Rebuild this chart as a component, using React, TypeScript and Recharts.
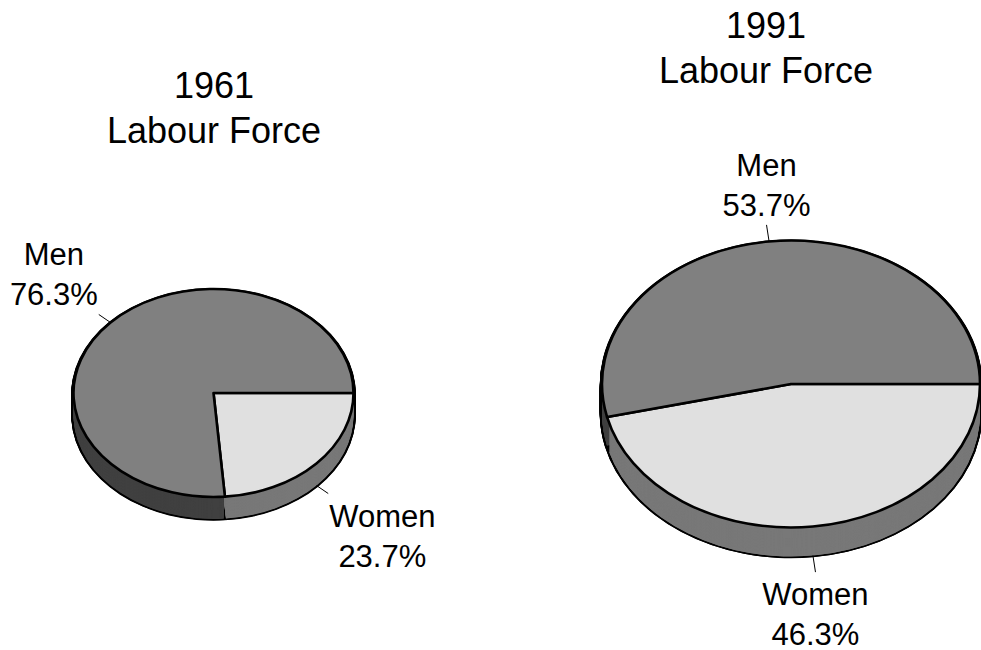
import React from 'react';
import { PieChart, Pie, Cell } from 'recharts';

// shares of the labour force, in percent
const categories = ['Women', 'Men'];
const share1961 = [23.7, 76.3];
const share1991 = [46.3, 53.7];
const years = ['1961', '1991'];
const subtitle = 'Labour Force';

const topColors = ['#e0e0e0', '#808080'];
const sideColors = ['#787878', '#404040'];

const FONT = '"Liberation Sans", Arial, Helvetica, sans-serif';
const LABEL_SIZE = 31;

type ChartCfg = {
  id: string;
  values: number[];
  cx: number;
  cy: number;
  r: number;
  squash: number;
  depth: number;
  lineLen: number;
  gap: number;
  year: string;
  titleX: number;
  titleY: number;
};

const charts: ChartCfg[] = [
  { id: 'p1961', values: share1961, cx: 213.5, cy: 393, r: 140, squash: 104 / 140, depth: 22, lineLen: 16, gap: 0.9, year: years[0], titleX: 214, titleY: 98 },
  { id: 'p1991', values: share1991, cx: 791, cy: 384, r: 189, squash: 143.5 / 189, depth: 29, lineLen: 22, gap: 2.8, year: years[1], titleX: 766, titleY: 38 },
];

let ctx: CanvasRenderingContext2D | null = null;
function measure(t: string) {
  if (!ctx) ctx = document.createElement('canvas').getContext('2d');
  if (!ctx) return t.length * LABEL_SIZE * 0.55;
  ctx.font = `${LABEL_SIZE}px ${FONT}`;
  return ctx.measureText(t).width;
}

// labels are drawn in screen space, the sectors themselves are squashed by css
function makeLabel(c: ChartCfg) {
  return (props: any) => {
    const { cx, cy, midAngle, outerRadius } = props;
    const name = props.payload?.name ?? props.name;
    const value = props.payload?.value ?? props.value;
    const a = (midAngle * Math.PI) / 180;
    const cos = Math.cos(a);
    const sin = Math.sin(a);
    const sx = cx + outerRadius * cos;
    const sy = cy - outerRadius * c.squash * sin + (sin < 0 ? c.depth : 0);
    const ex = sx + c.lineLen * cos;
    const ey = sy - c.lineLen * c.squash * sin;
    const lines = [String(name), `${value}%`];
    const w = Math.max(...lines.map(measure));
    const tx = Math.abs(cos) < 0.3 ? ex : ex + Math.sign(cos) * (w / 2 + 1);
    const y0 = sin > 0 ? ey - 49 : ey + 33;
    return (
      <g>
        <line x1={sx} y1={sy} x2={ex} y2={ey} stroke="#000" strokeWidth={1} />
        <text textAnchor="middle" fontFamily={FONT} fontSize={LABEL_SIZE} fill="#000">
          {lines.map((t, i) => (
            <tspan key={i} x={tx} y={y0 + i * 40}>{t}</tspan>
          ))}
        </text>
      </g>
    );
  };
}

function renderChart(c: ChartCfg) {
  const data = categories.map((name, i) => ({ name, value: c.values[i] }));
  const du = c.depth / c.squash;
  const n = Math.ceil(du);
  // bottom to top, so each slice's side shows under its own top
  const offsets: number[] = [du];
  for (let k = n - 1; k >= 1; k--) offsets.push(k);
  const cls = `sq ${c.id}`;

  return [
    ...offsets.map((off) => (
      <Pie
        key={`${c.id}-edge-${off}`}
        className={cls}
        data={data}
        dataKey="value"
        nameKey="name"
        cx={c.cx}
        cy={c.cy + off}
        outerRadius={c.r + 2.3}
        startAngle={0}
        endAngle={-360}
        fill="#000"
        stroke="none"
        isAnimationActive={false}
      />
    )),
    ...offsets.map((off) => (
      <Pie
        key={`${c.id}-side-${off}`}
        className={cls}
        data={data}
        dataKey="value"
        nameKey="name"
        cx={c.cx}
        cy={c.cy + off}
        outerRadius={c.r}
        startAngle={0}
        endAngle={-360}
        paddingAngle={c.gap}
        stroke="none"
        isAnimationActive={false}
      >
        {data.map((d, i) => (
          <Cell key={d.name} fill={sideColors[i]} />
        ))}
      </Pie>
    )),
    <Pie
      key={`${c.id}-top`}
      className={cls}
      data={data}
      dataKey="value"
      nameKey="name"
      cx={c.cx}
      cy={c.cy}
      outerRadius={c.r}
      startAngle={0}
      endAngle={-360}
      stroke="#000"
      strokeWidth={2.6}
      label={makeLabel(c)}
      labelLine={false}
      isAnimationActive={false}
    >
      {data.map((d, i) => (
        <Cell key={d.name} fill={topColors[i]} />
      ))}
    </Pie>,
  ];
}

export default function App() {
  const css = charts
    .map((c) => `path.${c.id} { transform-origin: ${c.cx}px ${c.cy}px; transform: scaleY(${c.squash}); }`)
    .join('\n');

  return (
    <div style={{ position: 'absolute', left: 0, top: 0, width: 981, height: 650, background: '#fff', overflow: 'hidden' }}>
      <style>{`${css}\npath.sq { vector-effect: non-scaling-stroke; stroke-linejoin: round; }`}</style>
      <PieChart width={981} height={650} margin={{ top: 0, right: 0, bottom: 0, left: 0 }}>
        {charts.flatMap((c) => renderChart(c))}
      </PieChart>
      <svg width={981} height={650} style={{ position: 'absolute', left: 0, top: 0, pointerEvents: 'none' }}>
        {charts.map((c) => (
          <text key={c.id} textAnchor="middle" fontFamily={FONT} fontSize={36} fill="#000">
            <tspan x={c.titleX} y={c.titleY}>{c.year}</tspan>
            <tspan x={c.titleX} y={c.titleY + 45}>{subtitle}</tspan>
          </text>
        ))}
      </svg>
    </div>
  );
}
